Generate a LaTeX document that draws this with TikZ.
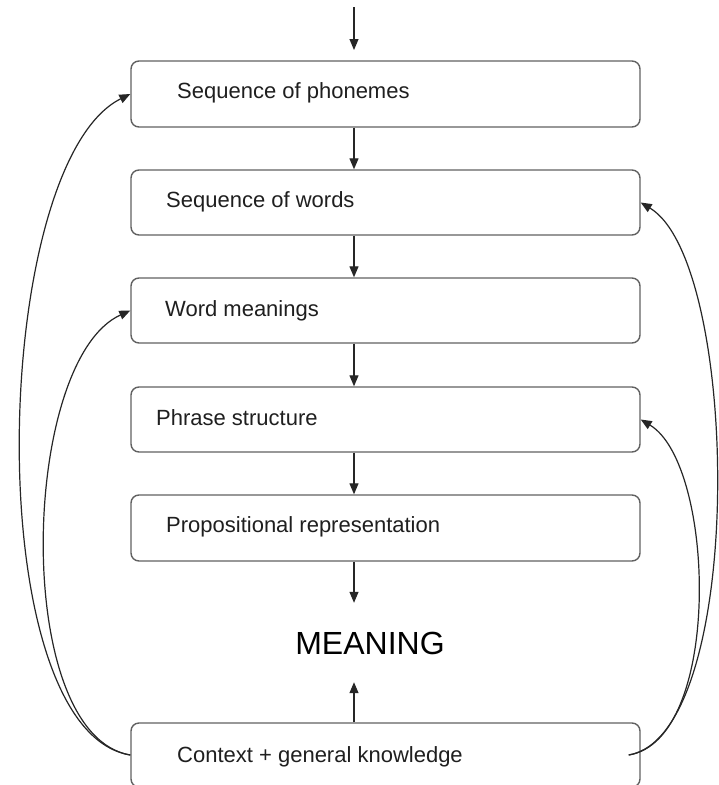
\documentclass[tikz,border=0pt]{standalone}
\usepackage{fontspec}
\setmainfont{Liberation Sans}
\usetikzlibrary{arrows.meta}
\begin{document}
\begin{tikzpicture}[x=1pt,y=-1pt,
  stagebox/.style={draw=black!62, line width=1.4pt, rounded corners=8pt, minimum width=509pt, minimum height=65pt, inner sep=0pt},
  boxtext/.style={anchor=west, inner sep=0pt, font=\fontsize{22}{26}\selectfont, text=black!88},
  arr/.style={draw=black!85, line width=1.2pt, -{Triangle[length=11pt,width=9pt]}},
  fb/.style={draw=black!85, line width=1.2pt, -{Triangle[length=11pt,width=9pt]}}
]
\useasboundingbox (0,0) rectangle (719,785);
\clip (0,0) rectangle (719,785);
\fill[white] (0,0) rectangle (719,785);
% boxes
\node[stagebox, minimum height=66pt] (b1) at (385.5,94) {};
\node[stagebox] (b2) at (385.5,202.5) {};
\node[stagebox] (b3) at (385.5,310.5) {};
\node[stagebox] (b4) at (385.5,419.5) {};
\node[stagebox, minimum height=66pt] (b5) at (385.5,528) {};
\node[stagebox, minimum height=64pt] (bk) at (385.5,755) {};
% texts
\node[boxtext] (t1) at (177,93) {Sequence of phonemes};
\node[boxtext] (t2) at (166,202) {Sequence of words};
\node[boxtext] (t3) at (165,311) {Word meanings};
\node[boxtext] (t4) at (156,418) {Phrase structure};
\node[boxtext] (t5) at (166,527) {Propositional representation};
\node[boxtext] (t6) at (177,757) {Context + general knowledge};
\node[inner xsep=0pt, inner ysep=28pt, text height=23pt, text depth=0pt, font=\fontsize{32}{36}\selectfont, text=black] (m) at (370,642.5) {MEANING};
% vertical axis
\coordinate (ax) at (354,0);
\coordinate (in0) at (354,7);
\coordinate (in1) at (354,50);
\draw[arr] (in0) -- (in1);
\draw[arr] (b1.south -| ax) -- (b2.north -| ax);
\draw[arr] (b2.south -| ax) -- (b3.north -| ax);
\draw[arr] (b3.south -| ax) -- (b4.north -| ax);
\draw[arr] (b4.south -| ax) -- (b5.north -| ax);
\draw[arr] (b5.south -| ax) -- (m.north -| ax);
\draw[arr] (bk.north -| ax) -- (m.south -| ax);
% feedback curves
\draw[fb] (bk.west) .. controls +(-153,-25) and +(-140,70) .. (b1.west);
\draw[fb] (bk.west) .. controls +(-119,-20) and +(-110,50) .. (b3.west);
\draw[fb] ([xshift=-12pt]bk.east) .. controls +(118,-20) and +(100,60) .. (b2.east);
\draw[fb] ([xshift=-12pt]bk.east) .. controls +(94,-15) and +(75,45) .. (b4.east);
\end{tikzpicture}
\end{document}
